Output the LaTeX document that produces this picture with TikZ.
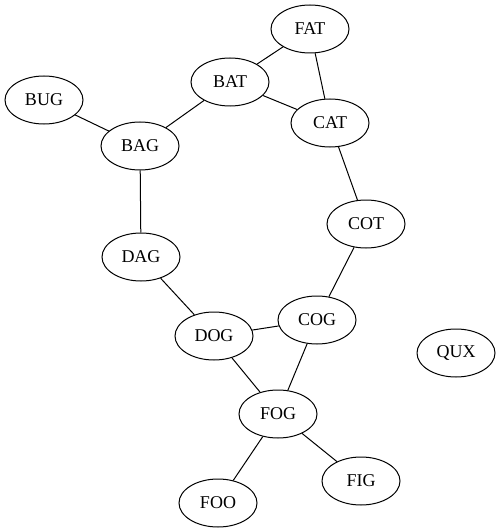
\documentclass[tikz,border=0pt]{standalone}
\usepackage{fontspec}
\setmainfont{Liberation Serif}
\usetikzlibrary{shapes.geometric}
\begin{document}
\begin{tikzpicture}[x=1pt,y=-1pt,
  vtx/.style={draw,ellipse,line width=1pt,minimum width=78pt,minimum height=48pt,inner sep=0pt,font=\fontsize{18}{20}\selectfont},
  edge/.style={line width=1pt}]
\useasboundingbox (0,0) rectangle (503,532);
\node[vtx] (FAT) at (310,29) {FAT};
\node[vtx] (BAT) at (230,82) {BAT};
\node[vtx] (CAT) at (330,123) {CAT};
\node[vtx] (BUG) at (44,100) {BUG};
\node[vtx] (BAG) at (140,146) {BAG};
\node[vtx] (COT) at (366,224) {COT};
\node[vtx] (DAG) at (141,257) {DAG};
\node[vtx] (COG) at (317,320) {COG};
\node[vtx] (DOG) at (214,336) {DOG};
\node[vtx] (QUX) at (456,353) {QUX};
\node[vtx] (FOG) at (278,414) {FOG};
\node[vtx] (FIG) at (361,481) {FIG};
\node[vtx] (FOO) at (218,503) {FOO};
\draw[edge] (BAT) -- (FAT);
\draw[edge] (FAT) -- (CAT);
\draw[edge] (BAT) -- (CAT);
\draw[edge] (BAG) -- (BAT);
\draw[edge] (BUG) -- (BAG);
\draw[edge] (CAT) -- (COT);
\draw[edge] (BAG) -- (DAG);
\draw[edge] (COT) -- (COG);
\draw[edge] (DAG) -- (DOG);
\draw[edge] (DOG) -- (COG);
\draw[edge] (COG) -- (FOG);
\draw[edge] (DOG) -- (FOG);
\draw[edge] (FOG) -- (FIG);
\draw[edge] (FOG) -- (FOO);
\end{tikzpicture}
\end{document}
